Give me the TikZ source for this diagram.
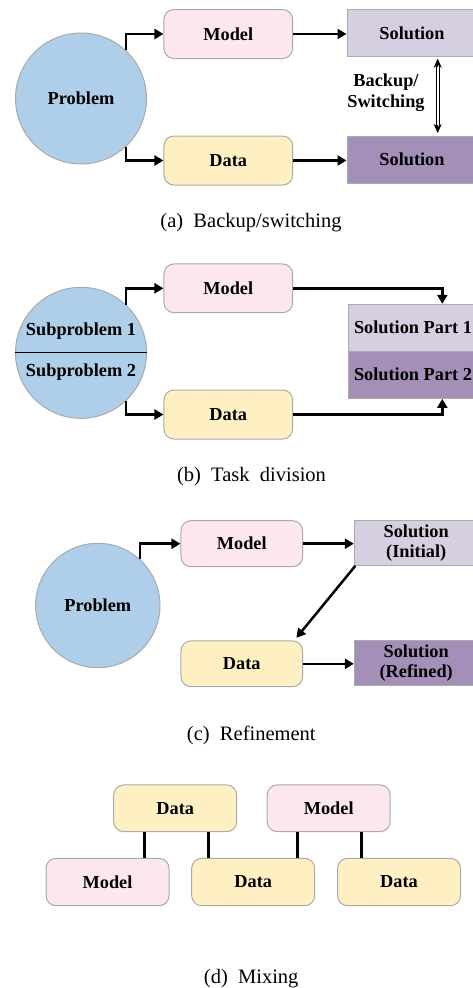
\documentclass[tikz,border=0pt]{standalone}
\usepackage{fontspec}
\setmainfont{Liberation Serif}
\usetikzlibrary{arrows.meta}
\definecolor{probblue}{RGB}{174,206,233}
\definecolor{modelpink}{RGB}{252,232,236}
\definecolor{datayellow}{RGB}{255,240,196}
\definecolor{sollight}{RGB}{214,206,225}
\definecolor{soldark}{RGB}{163,143,183}
\definecolor{edgegray}{RGB}{170,170,170}
\begin{document}
\begin{tikzpicture}[x=1pt,y=-1pt,
  lbl/.style={font=\fontsize{18.3}{20}\selectfont\bfseries, text=black},
  prob/.style={circle, draw=edgegray, line width=1pt, fill=probblue, inner sep=0pt, lbl},
  rbox/.style={rounded corners=10pt, draw=edgegray, line width=1pt, inner sep=0pt, lbl},
  modelbox/.style={rbox, fill=modelpink},
  databox/.style={rbox, fill=datayellow},
  solbox/.style={draw=edgegray, line width=1pt, inner sep=0pt, lbl, align=center},
  sollt/.style={solbox, fill=sollight},
  soldk/.style={solbox, fill=soldark},
  arr/.style={line width=2.5pt, -{Triangle[length=9pt,width=10pt]}},
  link/.style={line width=3pt},
  dtip/.style={line width=0.8pt, -{Stealth[length=9pt,width=8pt]}},
  captxt/.style={font=\fontsize{20.5}{24}\selectfont}
]
\useasboundingbox (0,0) rectangle (472,988);

% ---------- (a) ----------
\node[prob, minimum size=131pt] (P1) at (81,98.5) {Problem};
\node[modelbox, minimum width=128.7pt, minimum height=49pt] (M1) at (228.3,34) {Model};
\node[databox, minimum width=128.7pt, minimum height=49pt] (D1) at (228.3,160.5) {Data};
\node[sollt, minimum width=130pt, minimum height=47.4pt] (S1a) at (412,33) {Solution};
\node[soldk, minimum width=130pt, minimum height=47.4pt] (S1b) at (412,159.7) {Solution};
\draw[arr] (P1.47.8) |- (M1.west);
\draw[arr] (P1.-47.8) |- (D1.west);
\draw[arr] (M1.east) -- (S1a.west |- M1.east);
\draw[arr] (D1.east) -- (S1b.west |- D1.east);
\coordinate (BTa) at ([xshift=25.7pt,yshift=-1.5pt]S1a.south);
\coordinate (BTb) at ([xshift=25.7pt,yshift=2.5pt]S1b.north);
\draw[double, double distance=2.2pt, line width=0.8pt, shorten <=7pt, shorten >=7pt] (BTa) -- (BTb);
\draw[dtip] ([yshift=-8pt]BTa) -- (BTa);
\draw[dtip] ([yshift=8pt]BTb) -- (BTb);
\node[lbl, align=center] (BS) at (386,93) {Backup/\\[1pt]Switching};
\node[captxt] (capa) at (251,223) {(a)~~Backup/switching};

% ---------- (b) ----------
\node[prob, minimum size=131pt] (P2) at (81,352.8) {};
\draw[line width=1.2pt] (P2.west) -- (P2.east);
\node[lbl] (SP1) at (81,331) {Subproblem 1};
\node[lbl] (SP2) at (81,371.7) {Subproblem 2};
\node[modelbox, minimum width=128.7pt, minimum height=48.7pt] (M2) at (228.3,288.3) {Model};
\node[databox, minimum width=128.7pt, minimum height=49pt] (D2) at (228.3,414.5) {Data};
\node[sollt, minimum width=130pt, minimum height=46.7pt] (S2a) at (413,327.7) {Solution Part 1};
\node[soldk, minimum width=130pt, minimum height=47.3pt] (S2b) at (413,374.7) {Solution Part 2};
\draw[arr] (P2.47.8) |- (M2.west);
\draw[arr] (P2.-47.8) |- (D2.west);
\draw[arr] (M2.east) -| ([xshift=29.3pt]S2a.north);
\draw[arr] (D2.east) -| ([xshift=29.3pt]S2b.south);
\node[captxt] (capb) at (251.5,476.7) {(b)~~Task~~division};

% ---------- (c) ----------
\node[prob, minimum size=124.4pt] (P3) at (97.8,605.5) {Problem};
\node[modelbox, minimum width=121.7pt, minimum height=46pt] (M3) at (241.8,543.7) {Model};
\node[databox, minimum width=121.7pt, minimum height=45.7pt] (D3) at (241.8,663.8) {Data};
\node[sollt, minimum width=123.7pt, minimum height=44.6pt] (S3a) at (416.2,543) {Solution\\(Initial)};
\node[soldk, minimum width=123.7pt, minimum height=45.3pt] (S3b) at (416.2,663.3) {Solution\\(Refined)};
\draw[arr] (P3.48.3) |- (M3.west);
\draw[arr] (M3.east) -- (S3a.west |- M3.east);
\draw[arr] (D3.east) -- (S3b.west |- D3.east);
\draw[arr] ([xshift=1.5pt]S3a.south west) -- ([xshift=-6.7pt,yshift=2.7pt]D3.north east);
\node[captxt] (capc) at (251.3,735) {(c)~~Refinement};

% ---------- (d) ----------
\node[databox, minimum width=123pt, minimum height=46.7pt] (D4a) at (175.2,808.3) {Data};
\node[modelbox, minimum width=123pt, minimum height=46.7pt] (M4a) at (328.7,808.3) {Model};
\node[modelbox, minimum width=123pt, minimum height=47.4pt] (M4b) at (107.5,882) {Model};
\node[databox, minimum width=123pt, minimum height=47.4pt] (D4b) at (253.2,882) {Data};
\node[databox, minimum width=123pt, minimum height=47.4pt] (D4c) at (399,882) {Data};
\draw[link] ([xshift=-30.9pt]D4a.south) -- ([xshift=-30.9pt]D4a.south |- M4b.north);
\draw[link] ([xshift=33.1pt]D4a.south) -- ([xshift=33.1pt]D4a.south |- D4b.north);
\draw[link] ([xshift=-31pt]M4a.south) -- ([xshift=-31pt]M4a.south |- D4b.north);
\draw[link] ([xshift=32.3pt]M4a.south) -- ([xshift=32.3pt]M4a.south |- D4c.north);
\node[captxt] (capd) at (251.2,978.3) {(d)~~Mixing};
\end{tikzpicture}
\end{document}
